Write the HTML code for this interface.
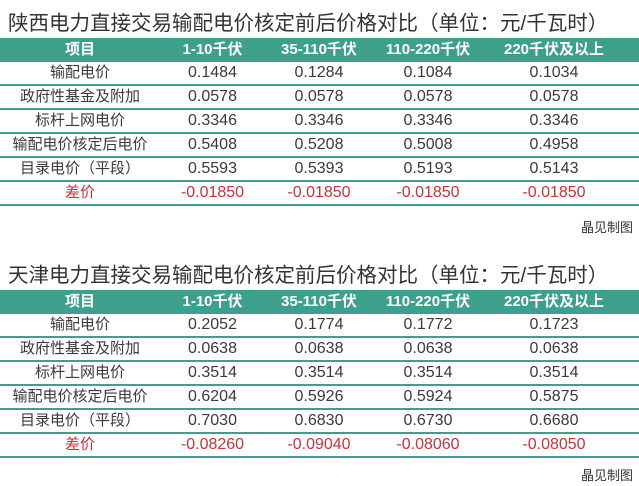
<!DOCTYPE html>
<html><head><meta charset="utf-8"><style>
body{margin:0;width:639px;height:486px;background:#fff;font-family:"Liberation Sans","Noto Sans CJK SC",sans-serif;color:#333;position:relative;overflow:hidden}
.t{position:absolute;left:8px;font-size:20.5px;color:#333;white-space:nowrap;letter-spacing:0px}
table{position:absolute;left:0;width:639px;border-collapse:collapse;table-layout:fixed}
td{height:22px;line-height:22px;padding:0;text-align:center;font-size:16px;color:#3a3a3a;border-bottom:2px solid #3f9f8d;white-space:nowrap;overflow:hidden}
td:first-child{font-size:15px}
td:last-child{padding-right:14px}
tr.h td{background:#3f9f8d;color:#fff;font-weight:bold;height:24px;line-height:24px;border:none;font-size:15px}
tr.r td{color:#c8323a}
.s{position:absolute;right:6px;font-size:13px;color:#333}
</style></head><body>
<div class="t" style="top:6px">陕西电力直接交易输配电价核定前后价格对比（单位：元/千瓦时）</div>
<table style="top:38px">
<colgroup><col style="width:160px"><col style="width:105px"><col style="width:108px"><col style="width:110px"><col style="width:156px"></colgroup>
<tr class="h"><td>项目</td><td>1-10千伏</td><td>35-110千伏</td><td>110-220千伏</td><td>220千伏及以上</td></tr>
<tr><td>输配电价</td><td>0.1484</td><td>0.1284</td><td>0.1084</td><td>0.1034</td></tr>
<tr><td>政府性基金及附加</td><td>0.0578</td><td>0.0578</td><td>0.0578</td><td>0.0578</td></tr>
<tr><td>标杆上网电价</td><td>0.3346</td><td>0.3346</td><td>0.3346</td><td>0.3346</td></tr>
<tr><td>输配电价核定后电价</td><td>0.5408</td><td>0.5208</td><td>0.5008</td><td>0.4958</td></tr>
<tr><td>目录电价（平段）</td><td>0.5593</td><td>0.5393</td><td>0.5193</td><td>0.5143</td></tr>
<tr class="r"><td>差价</td><td>-0.01850</td><td>-0.01850</td><td>-0.01850</td><td>-0.01850</td></tr>
</table>
<div class="s" style="top:217px">晶见制图</div>
<div class="t" style="top:258px">天津电力直接交易输配电价核定前后价格对比（单位：元/千瓦时）</div>
<table style="top:290px">
<colgroup><col style="width:160px"><col style="width:105px"><col style="width:108px"><col style="width:110px"><col style="width:156px"></colgroup>
<tr class="h"><td>项目</td><td>1-10千伏</td><td>35-110千伏</td><td>110-220千伏</td><td>220千伏及以上</td></tr>
<tr><td>输配电价</td><td>0.2052</td><td>0.1774</td><td>0.1772</td><td>0.1723</td></tr>
<tr><td>政府性基金及附加</td><td>0.0638</td><td>0.0638</td><td>0.0638</td><td>0.0638</td></tr>
<tr><td>标杆上网电价</td><td>0.3514</td><td>0.3514</td><td>0.3514</td><td>0.3514</td></tr>
<tr><td>输配电价核定后电价</td><td>0.6204</td><td>0.5926</td><td>0.5924</td><td>0.5875</td></tr>
<tr><td>目录电价（平段）</td><td>0.7030</td><td>0.6830</td><td>0.6730</td><td>0.6680</td></tr>
<tr class="r"><td>差价</td><td>-0.08260</td><td>-0.09040</td><td>-0.08060</td><td>-0.08050</td></tr>
</table>
<div class="s" style="top:465px">晶见制图</div>
</body></html>
